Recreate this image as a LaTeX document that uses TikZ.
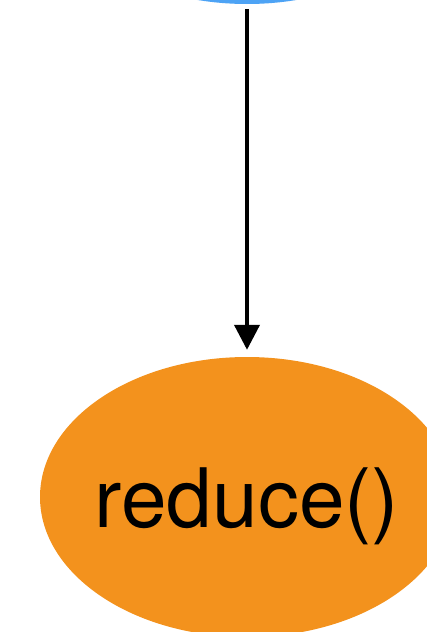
\documentclass[tikz,border=0pt]{standalone}
\usepackage{fontspec}
\setmainfont{TeX Gyre Heros}
\usetikzlibrary{arrows.meta,shapes.geometric}
\definecolor{mapblue}{HTML}{4DA3F5}
\definecolor{reduceorange}{HTML}{F3921D}
\tikzset{
  x=1pt, y=-1pt,
  stage/.style={ellipse, inner sep=0pt, minimum width=414pt, minimum height=280pt, font=\fontsize{82}{98}\selectfont},
  flow/.style={line width=4pt, -{Triangle[width=25pt,length=25pt]}, shorten <=5pt, shorten >=7pt}
}
\begin{document}
\begin{tikzpicture}
  \useasboundingbox (0,0) rectangle (427,632);
  \clip (0,0) rectangle (427,632);
  \node[stage, fill=mapblue] (src) at (247,-136) {};
  \node[stage, fill=reduceorange] (red) at (247,497) {\makebox[0pt]{\raisebox{-30pt}[0pt][0pt]{reduce()}}};
  \draw[flow] (src.south) -- (red.north);
\end{tikzpicture}
\end{document}
